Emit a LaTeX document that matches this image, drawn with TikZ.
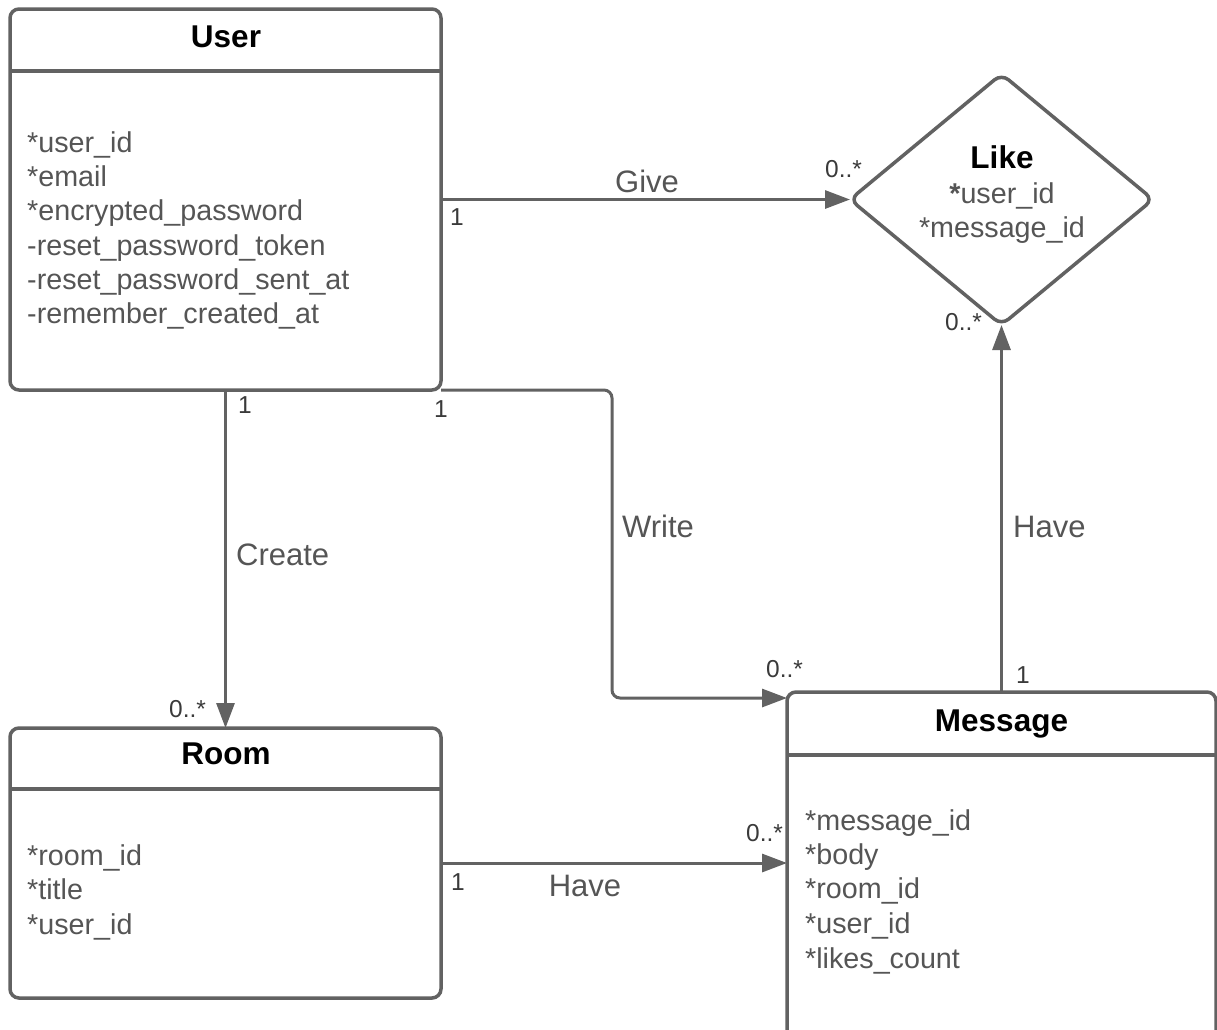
\documentclass[tikz,border=0pt]{standalone}
\usepackage{fontspec}
\setmainfont{Liberation Sans}
\usetikzlibrary{arrows.meta,shapes.geometric}
\definecolor{lc}{HTML}{626262}
\definecolor{tc}{HTML}{555555}
\definecolor{mc}{HTML}{3A3A3A}
\tikzset{
 box/.style={draw=lc, line width=3.5pt, rounded corners=9pt, inner sep=0pt, outer sep=0pt, fill=white},
 hdr/.style={draw=lc, line width=3.5pt},
 conn/.style={draw=lc, line width=3pt, -{Triangle[length=25pt,width=18pt]}},
 ttl/.style={font=\fontsize{31.5}{36}\selectfont\bfseries, text=black, anchor=base, inner sep=0pt},
 attr/.style={font=\fontsize{28.7}{34}\selectfont, text=tc, anchor=base west, inner sep=0pt},
 cattr/.style={font=\fontsize{28.7}{34}\selectfont, text=tc, anchor=base, inner sep=0pt},
 lbl/.style={font=\fontsize{31}{36}\selectfont, text=tc, inner sep=0pt},
 mult/.style={font=\fontsize{24.5}{28}\selectfont, text=mc, anchor=base west, inner sep=0pt},
}
\begin{document}
\begin{tikzpicture}[x=1pt,y=-1pt]
\useasboundingbox[fill=white] (0,0) rectangle (1217,1029);

% User
\node[box, minimum width=431pt, minimum height=381pt] (user) at (225.5,199.5) {};
\draw[hdr] (user.west |- 0,71) -- (user.east |- 0,71);
\node[ttl] (userT) at (226,47) {User};
\node[attr] (ua1) at (27,152) {*user\_id};
\node[attr] (ua2) at (27,186) {*email};
\node[attr] (ua3) at (27,220) {*encrypted\_password};
\node[attr] (ua4) at (27,255) {-reset\_password\_token};
\node[attr] (ua5) at (27,289) {-reset\_password\_sent\_at};
\node[attr] (ua6) at (27,323) {-remember\_created\_at};

% Room
\node[box, minimum width=431pt, minimum height=270pt] (room) at (225.5,863) {};
\draw[hdr] (room.west |- 0,789) -- (room.east |- 0,789);
\node[ttl] (roomT) at (226,764) {Room};
\node[attr] (ra1) at (27,865) {*room\_id};
\node[attr] (ra2) at (27,899) {*title};
\node[attr] (ra3) at (27,934) {*user\_id};

% Message
\node[box, minimum width=429pt, minimum height=350pt] (message) at (1001.5,867) {};
\draw[hdr] (message.west |- 0,755) -- (message.east |- 0,755);
\node[ttl] (msgT) at (1001.5,731) {Message};
\node[attr] (ma1) at (805,830) {*message\_id};
\node[attr] (ma2) at (805,864) {*body};
\node[attr] (ma3) at (805,898) {*room\_id};
\node[attr] (ma4) at (805,933) {*user\_id};
\node[attr] (ma5) at (805,968) {*likes\_count};

% Like
\node[draw=lc, line width=3.5pt, diamond, rounded corners=9pt, inner sep=0pt, outer sep=0pt,
      minimum width=303pt, minimum height=251pt, aspect=1.207] (like) at (1001.5,199.5) {};
\node[ttl] (likeT) at (1002,168) {Like};
\node[cattr] (la1) at (1002,203) {\textbf{*}user\_id};
\node[cattr] (la2) at (1002,237) {*message\_id};

% Connectors
\draw[conn] (user.east) -- (like.west);
\node[lbl, anchor=base] (giveL) at (647,192) {Give};
\node[mult] (giveM1) at (450,225) {1};
\node[mult] (giveM2) at (825,177) {0..*};

\draw[conn] (user.south) -- (room.north);
\node[lbl, anchor=base west] (createL) at (236,565) {Create};
\node[mult] (createM1) at (238,413) {1};
\node[mult] (createM2) at (169,717) {0..*};

\draw[conn, rounded corners=8pt] (user.south east) -- (612,390) -- (612,698) -- ([yshift=-6pt]message.north west);
\node[lbl, anchor=base west] (writeL) at (622,537) {Write};
\node[mult] (writeM1) at (434,417) {1};
\node[mult] (writeM2) at (766,677) {0..*};

\draw[conn] (room.east) -- (room.east -| message.west);
\node[lbl, anchor=base] (haveL1) at (585,896) {Have};
\node[mult] (haveM11) at (451,890) {1};
\node[mult] (haveM12) at (746,841) {0..*};

\draw[conn] (message.north) -- (like.south);
\node[lbl, anchor=base west] (haveL2) at (1013,537) {Have};
\node[mult] (haveM21) at (1016,683) {1};
\node[mult] (haveM22) at (945,330) {0..*};
\end{tikzpicture}
\end{document}
